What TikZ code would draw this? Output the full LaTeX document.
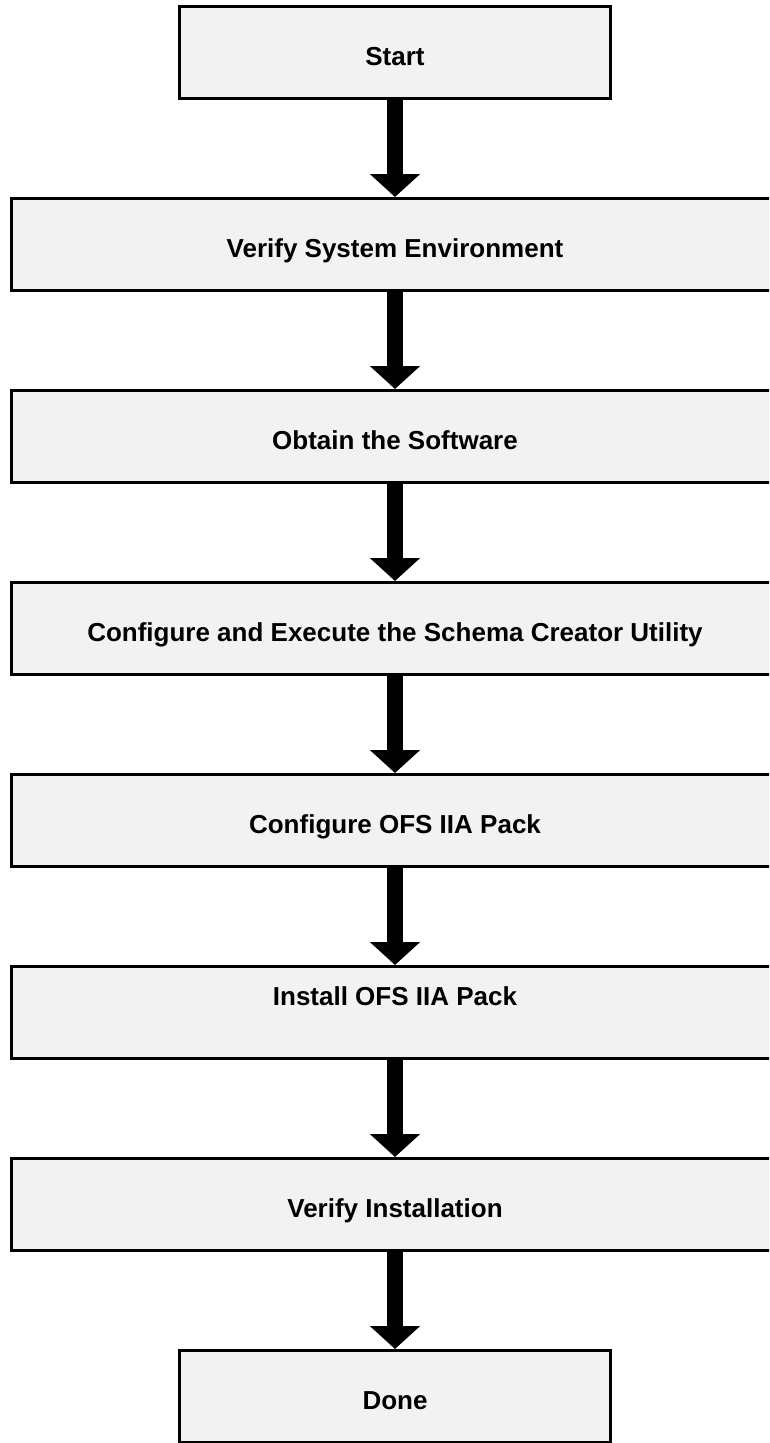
\documentclass[tikz,border=0pt]{standalone}
\usepackage{fontspec}
\setmainfont{Liberation Sans}
\usetikzlibrary{arrows.meta}
\definecolor{boxgray}{HTML}{F2F2F2}
\tikzset{
  stepbox/.style={draw, line width=3pt, fill=boxgray, minimum height=92pt,
    inner sep=0pt, text height=25pt, text depth=0pt,
    font=\fontsize{26}{31}\selectfont\bfseries},
  endbox/.style={stepbox, minimum width=431pt},
  widebox/.style={stepbox, minimum width=767pt},
  flow/.style={line width=16pt, -{Triangle[width=49pt,length=23pt]}}
}
\begin{document}
\begin{tikzpicture}[x=1pt, y=-1pt]
% keep the page size of the picture
\useasboundingbox (0,0) rectangle (769,1443);
\clip (0,0) rectangle (769,1443);

% the start and end boxes
\node[endbox] (start) at (395,52.5) {Start};
\node[endbox] (done) at (395,1396.5) {Done};

% the steps in between, one every 192pt
\foreach \n/\i/\txt in {
verify/1/Verify System Environment,
obtain/2/Obtain the Software,
schema/3/Configure and Execute the Schema Creator Utility,
configure/4/Configure OFS IIA Pack,
install/5/\raisebox{20pt}[0pt][0pt]{Install OFS IIA Pack},
check/6/Verify Installation}
\node[widebox] (\n) at (395,52.5+192*\i) {\txt};

% the arrows from box to box
\foreach \a/\b in {start/verify, verify/obtain, obtain/schema,
schema/configure, configure/install, install/check, check/done}
\draw[flow] (\a) -- (\b);
\end{tikzpicture}
\end{document}
